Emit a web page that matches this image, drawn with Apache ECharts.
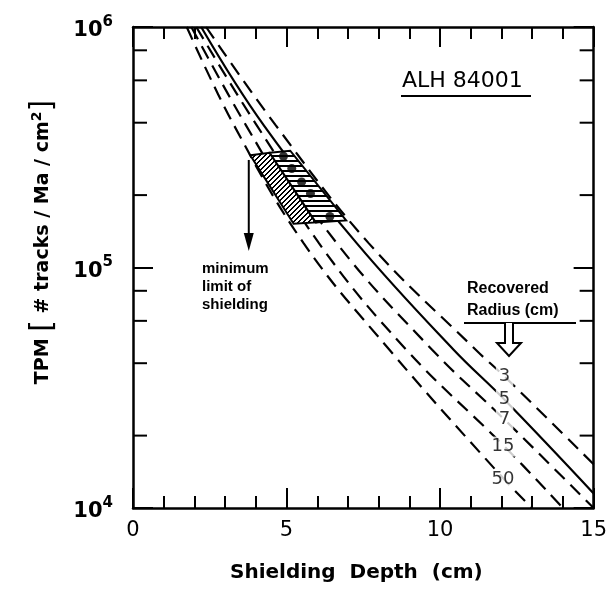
<!DOCTYPE html>
<html>
<head>
<meta charset="utf-8">
<script src="https://cdn.jsdelivr.net/npm/echarts@6/dist/echarts.min.js"></script>
<style>
  html, body { margin: 0; padding: 0; background: #fff; }
  #chart { width: 610px; height: 593px; }
</style>
</head>
<body>
<div id="chart"></div>
<script>
// depth (cm) vs TPM, one array per recovered radius
const curve3 = [[2.38, 1e6], [4.65, 3.9e5], [7.68, 1.26e5], [11.16, 4.55e4], [12.1, 3.52e4], [15, 1.52e4]];
const curve5 = [[2.22, 1e6], [4.26, 3.9e5], [7.29, 1.26e5], [10.44, 4.55e4], [12.1, 2.82e4], [15, 1.15e4]];
const curve7 = [[2.06, 1e6], [4.03, 3.9e5], [6.64, 1.26e5], [9.74, 4.55e4], [12.1, 2.33e4], [15, 1.0e4]];
const curve15 = [[1.9, 1e6], [3.68, 3.9e5], [6.06, 1.26e5], [8.9, 4.55e4], [12.1, 1.8e4], [14.0, 1.0e4]];
const curve50 = [[1.75, 1e6], [3.29, 3.9e5], [5.56, 1.26e5], [8.35, 4.55e4], [12.1, 1.31e4], [13.0, 1.0e4]];

const radiusLabels = [[12.1, 3.52e4, "3"], [12.1, 2.82e4, "5"], [12.1, 2.33e4, "7"], [12.05, 1.8e4, "15"], [12.05, 1.31e4, "50"]];

const measured = [[4.9, 2.9e5], [5.17, 2.58e5], [5.49, 2.27e5], [5.78, 2.03e5], [6.41, 1.63e5]];

const hatchLeft = [[3.82, 2.93e5], [4.45, 3.0e5], [5.95, 1.54e5], [5.23, 1.52e5]];
const hatchRight = [[4.45, 3.0e5], [5.12, 3.06e5], [6.94, 1.57e5], [5.95, 1.54e5]];

const minLimitArrow = [3.77, 2.8e5, 1.17e5];
const minorY = [2e4, 4e4, 6e4, 8e4, 2e5, 4e5, 6e5, 8e5];

function makePattern(kind) {
  const c = document.createElement("canvas");
  c.width = 5; c.height = 5;
  const ctx = c.getContext("2d");
  ctx.fillStyle = "#fff";
  ctx.fillRect(0, 0, 5, 5);
  ctx.fillStyle = "#000";
  if (kind === "h") {
    ctx.fillRect(0, 0, 5, 2);
  } else {
    for (let i = 0; i < 5; i++) {
      ctx.fillRect(i, 4 - i, 1, 1);
      ctx.fillRect((i + 1) % 5, 4 - i, 1, 1);
    }
  }
  return c;
}
const patDiag = makePattern("d");
const patHoriz = makePattern("h");

const chart = echarts.init(document.getElementById("chart"));

const font = "DejaVu Sans";
const axisCommon = {
  axisLine: { onZero: false, lineStyle: { color: "#000", width: 2.5 } },
  axisTick: { inside: true, length: 20, lineStyle: { color: "#000", width: 2 } },
  splitLine: { show: false },
};

const curveLine = (name, data, type) => ({
  name: name,
  type: "line",
  data: data,
  smooth: 0.4,
  symbol: "none",
  clip: true,
  z: 3,
  lineStyle: { color: "#000", width: 2.2, type: type },
});

const option = {
  animation: false,
  backgroundColor: "#fff",
  grid: { left: 133, right: 12, top: 27, bottom: 85 },
  xAxis: [
    Object.assign({}, axisCommon, {
      type: "value", min: 0, max: 15, interval: 5, position: "bottom",
      minorTick: { show: true, splitNumber: 5, length: 12, lineStyle: { color: "#000", width: 2 } },
      axisLabel: { color: "#000", fontSize: 21, fontFamily: font, margin: 12 },
    }),
    Object.assign({}, axisCommon, {
      type: "value", min: 0, max: 15, interval: 5, position: "top",
      minorTick: { show: true, splitNumber: 5, length: 12, lineStyle: { color: "#000", width: 2 } },
      axisLabel: { show: false },
    }),
  ],
  yAxis: [
    Object.assign({}, axisCommon, {
      type: "log", logBase: 10, min: 1e4, max: 1e6, position: "left",
      axisLabel: {
        margin: 20,
        formatter: function (v) {
          return "{b|10}{s|" + Math.round(Math.log10(v)) + "}";
        },
        rich: {
          b: { fontSize: 21, fontWeight: "bold", fontFamily: font, color: "#000", padding: [8, 0, 0, 0] },
          s: { fontSize: 15, fontWeight: "bold", fontFamily: font, color: "#000", padding: [0, 0, 10, 0] },
        },
      },
    }),
    Object.assign({}, axisCommon, {
      type: "log", logBase: 10, min: 1e4, max: 1e6, position: "right",
      axisLabel: { show: false },
    }),
  ],
  series: [
    {
      type: "custom",
      silent: true,
      z: 4,
      data: [hatchLeft, hatchRight].map((poly, i) => [poly[0][0], poly[0][1], i]),
      renderItem: function (params, api) {
        const poly = [hatchLeft, hatchRight][api.value(2)];
        const pts = poly.map((p) => api.coord(p));
        return {
          type: "polygon",
          shape: { points: pts },
          style: {
            fill: { image: api.value(2) === 0 ? patDiag : patHoriz, repeat: "repeat" },
            stroke: "#000",
            lineWidth: 2,
          },
        };
      },
    },
    {
      type: "custom",
      silent: true,
      z: 5,
      data: minorY.map((v) => [0, v]),
      renderItem: function (params, api) {
        const l = api.coord([0, api.value(1)]);
        const r = api.coord([15, api.value(1)]);
        const st = { stroke: "#000", lineWidth: 2 };
        return {
          type: "group",
          children: [
            { type: "line", shape: { x1: l[0], y1: l[1], x2: l[0] + 14, y2: l[1] }, style: st },
            { type: "line", shape: { x1: r[0] - 14, y1: r[1], x2: r[0], y2: r[1] }, style: st },
          ],
        };
      },
    },
    {
      type: "custom",
      silent: true,
      z: 5,
      data: [minLimitArrow],
      renderItem: function (params, api) {
        const a = api.coord([api.value(0), api.value(1)]);
        const b = api.coord([api.value(0), api.value(2)]);
        return {
          type: "group",
          children: [
            { type: "line", shape: { x1: a[0], y1: a[1], x2: b[0], y2: b[1] - 14 }, style: { stroke: "#000", lineWidth: 2 } },
            { type: "polygon", shape: { points: [[b[0] - 5, b[1] - 18], [b[0] + 5, b[1] - 18], [b[0], b[1]]] }, style: { fill: "#000" } },
          ],
        };
      },
    },
    curveLine("3", curve3, [14, 8]),
    curveLine("5", curve5, "solid"),
    curveLine("7", curve7, [14, 8]),
    curveLine("15", curve15, [14, 8]),
    curveLine("50", curve50, [14, 8]),
    {
      type: "scatter",
      data: measured,
      symbol: "circle",
      symbolSize: 9,
      itemStyle: { color: "#000" },
      z: 6,
    },
    {
      type: "scatter",
      data: radiusLabels,
      symbolSize: 0,
      z: 7,
      label: {
        show: true,
        position: "inside",
        formatter: (p) => p.value[2],
        color: "#000",
        fontSize: 18,
        fontFamily: font,
        backgroundColor: "#fff",
        padding: [1, 3],
      },
    },
  ],
  graphic: [
    {
      type: "text", left: 230, top: 563,
      style: { text: "Shielding  Depth  (cm)", font: "bold 20px " + font, fill: "#000" },
    },
    {
      type: "text", x: 43, y: 242, rotation: Math.PI / 2,
      style: {
        text: "TPM {br|[} # tracks / Ma / cm{sup|2}{br|]}",
        font: "bold 19px " + font, fill: "#000", align: "center", verticalAlign: "middle",
        rich: {
          br: { font: "30px " + font, fill: "#000" },
          sup: { font: "bold 14px " + font, fill: "#000", padding: [0, 0, 12, 0] },
        },
      },
    },
    {
      type: "text", left: 402, top: 70,
      style: { text: "ALH 84001", font: "22px " + font, fill: "#000" },
    },
    { type: "line", shape: { x1: 401, y1: 96, x2: 531, y2: 96 }, style: { stroke: "#000", lineWidth: 2 } },
    {
      type: "text", left: 202, top: 260,
      style: { text: "minimum\nlimit of\nshielding", font: "bold 15px Liberation Sans", fill: "#000", lineHeight: 18 },
    },
    {
      type: "text", left: 467, top: 278,
      style: { text: "Recovered\nRadius (cm)", font: "bold 16px Liberation Sans", fill: "#000", lineHeight: 22 },
    },
    { type: "line", shape: { x1: 464, y1: 323, x2: 576, y2: 323 }, style: { stroke: "#000", lineWidth: 2 } },
    {
      type: "polyline",
      shape: { points: [[505, 323], [505, 343], [497, 343], [509, 356], [521, 343], [513, 343], [513, 323]] },
      style: { stroke: "#000", lineWidth: 2, fill: "#fff" },
    },
  ],
};

chart.setOption(option);
window.addEventListener("resize", () => chart.resize());
</script>
</body>
</html>
